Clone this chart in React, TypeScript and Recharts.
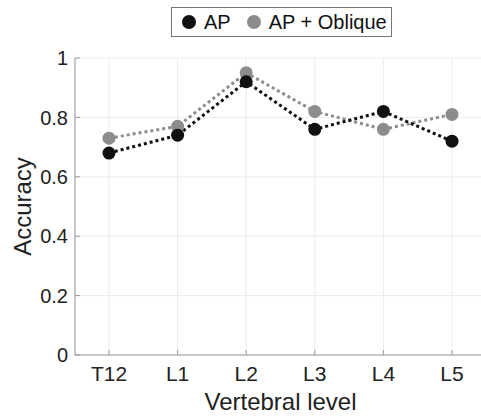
import { LineChart, Line, XAxis, YAxis, CartesianGrid } from 'recharts';

const levels = ['T12', 'L1', 'L2', 'L3', 'L4', 'L5'];
const apValues = [0.68, 0.74, 0.92, 0.76, 0.82, 0.72];
const obliqueValues = [0.73, 0.77, 0.95, 0.82, 0.76, 0.81];
const yTicks = [0, 0.2, 0.4, 0.6, 0.8, 1];

const data = levels.map((level, i) => ({
    level,
    AP: apValues[i],
    'AP + Oblique': obliqueValues[i],
}));

const font = '"Liberation Sans", Arial, sans-serif';

const LegendBox = () => (
    <div
        style={{
            position: 'absolute',
            left: 171,
            top: 7,
            width: 221,
            height: 30,
            display: 'flex',
            alignItems: 'center',
            border: '1px solid #777',
            background: '#fff',
            boxSizing: 'border-box',
            padding: '0 0 0 10px',
            fontFamily: font,
            fontSize: 20,
            color: '#111',
            whiteSpace: 'nowrap',
        }}
    >
        <span style={{ width: 14, height: 14, borderRadius: '50%', background: '#111', display: 'inline-block', marginRight: 8 }} />
        <span style={{ marginRight: 16 }}>AP</span>
        <span style={{ width: 14, height: 14, borderRadius: '50%', background: '#8c8c8c', display: 'inline-block', marginRight: 8 }} />
        <span>AP + Oblique</span>
    </div>
);

const App = () => {
    return (
        <div style={{ position: 'absolute', left: 0, top: 0, width: 481, height: 420, overflow: 'hidden', background: '#fff' }}>
            <LineChart
                width={486}
                height={420}
                data={data}
                margin={{ top: 58, right: 0, left: 0, bottom: 0 }}
            >
                <CartesianGrid stroke="#ececec" />
                <XAxis
                    dataKey="level"
                    padding={{ left: 34, right: 34 }}
                    height={65}
                    stroke="#9a9a9a"
                    tickSize={-5}
                    tickMargin={16}
                    tick={{ fill: '#222', fontSize: 21, fontFamily: font }}
                    label={{ value: 'Vertebral level', position: 'insideBottom', offset: 10, fill: '#222', fontSize: 24, fontFamily: font }}
                />
                <YAxis
                    domain={[0, 1]}
                    ticks={yTicks}
                    width={75}
                    stroke="#9a9a9a"
                    tickSize={-5}
                    tickMargin={12}
                    tick={{ fill: '#222', fontSize: 20, fontFamily: font }}
                    label={{ value: 'Accuracy', angle: -90, position: 'center', dx: -15, fill: '#222', fontSize: 24, fontFamily: font }}
                />
                <Line
                    dataKey="AP + Oblique"
                    stroke="#8c8c8c"
                    strokeWidth={3}
                    strokeDasharray="3 3"
                    dot={{ r: 6.5, fill: '#8c8c8c', stroke: 'none' }}
                    isAnimationActive={false}
                />
                <Line
                    dataKey="AP"
                    stroke="#111"
                    strokeWidth={3}
                    strokeDasharray="3 3"
                    dot={{ r: 6.5, fill: '#111', stroke: 'none' }}
                    isAnimationActive={false}
                />
            </LineChart>
            <LegendBox />
        </div>
    );
};

export default App;
